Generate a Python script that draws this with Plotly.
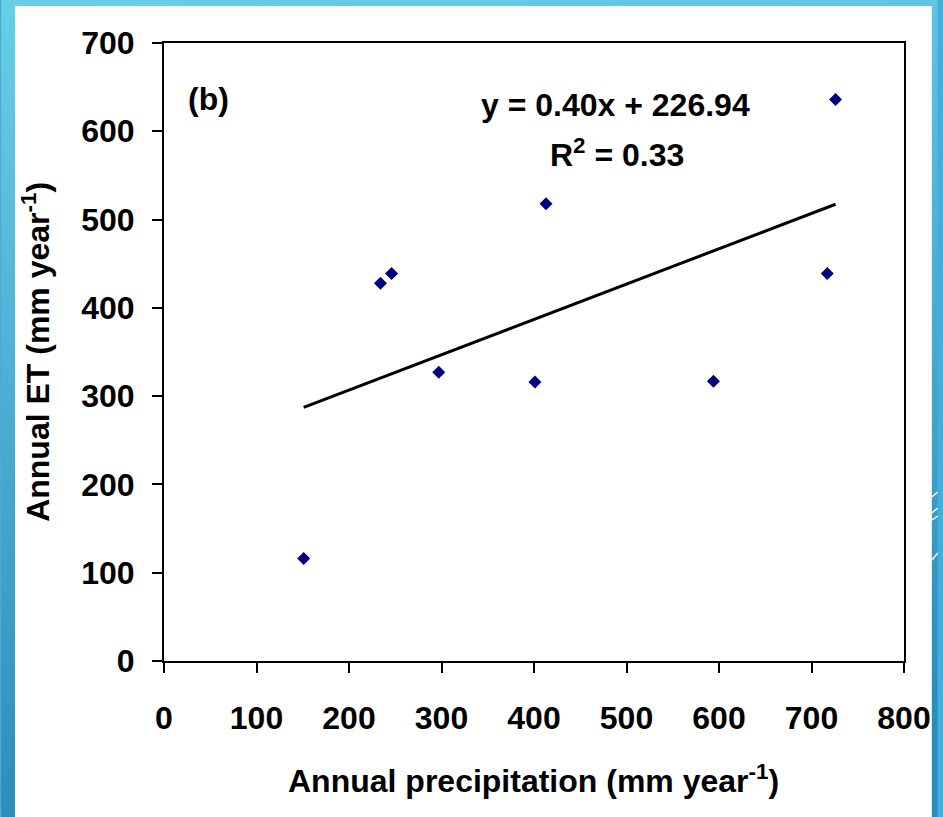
import base64
import plotly.graph_objects as go

# ---- data ----
precip = [151, 234, 246, 297, 401, 413, 594, 717, 726]
et = [116, 428, 439, 327, 316, 518, 317, 439, 636]
slope = 0.40
intercept = 226.94
r_squared = 0.33
x_tick_vals = [0, 100, 200, 300, 400, 500, 600, 700, 800]
y_tick_vals = [0, 100, 200, 300, 400, 500, 600, 700]
panel_label = "(b)"
x_title = "Annual precipitation (mm year<sup>-1</sup>)"
y_title = "Annual ET (mm year<sup>-1</sup>)"

# ---- figure geometry ----
W, H = 943, 817
L, R, T, B = 164, 34, 43, 156
PW, PH = W - L - R, H - T - B
FONT = "Liberation Sans, Arial, Helvetica, sans-serif"

def px_x(p):
    return (p - L) / PW

def px_y(p):
    return 1 - (p - T) / PH

# slide-like background: blue gradient with a white panel
svg = f"""<svg xmlns='http://www.w3.org/2000/svg' width='{W}' height='{H}' viewBox='0 0 {W} {H}'>
<defs><linearGradient id='g' x1='0' y1='0' x2='0.15' y2='1'>
<stop offset='0' stop-color='#68CFE8'/><stop offset='1' stop-color='#2A8CBA'/></linearGradient></defs>
<rect x='0' y='0' width='{W}' height='{H}' fill='url(#g)'/>
<rect x='14' y='6' width='923' height='{H-6}' fill='#FFFFFF'/>
<g stroke='#FFFFFF' stroke-width='1.5' fill='none'>
<line x1='937' y1='497' x2='943' y2='492'/>
<line x1='937' y1='513' x2='943' y2='508'/>
<line x1='937' y1='520' x2='943' y2='516'/>
<line x1='937' y1='560' x2='943' y2='553'/>
</g></svg>"""
img_src = "data:image/svg+xml;base64," + base64.b64encode(svg.encode()).decode()

x_line = [min(precip), max(precip)]
y_line = [slope * v + intercept for v in x_line]

fig = go.Figure()
fig.add_trace(go.Scatter(
    x=x_line, y=y_line, mode="lines",
    line=dict(color="black", width=3), showlegend=False, hoverinfo="skip"))
fig.add_trace(go.Scatter(
    x=precip, y=et, mode="markers",
    marker=dict(symbol="diamond", size=10, color="#000080",
                line=dict(width=0)),
    showlegend=False))

axis_common = dict(
    showgrid=False, zeroline=False, showline=True, linecolor="black",
    linewidth=2, mirror=True, ticks="outside", ticklen=10, tickwidth=2,
    tickcolor="black",
    tickfont=dict(family=FONT, size=32, color="black", weight="bold"),
)
fig.update_xaxes(range=[0, 800], tickvals=x_tick_vals, ticklabelstandoff=18,
                 **axis_common)
fig.update_yaxes(range=[0, 700], tickvals=y_tick_vals, ticklabelstandoff=11,
                 **axis_common)

ann_font = dict(family=FONT, size=32, color="black", weight="bold")
fig.update_layout(
    width=W, height=H,
    margin=dict(l=L, r=R, t=T, b=B, pad=0),
    paper_bgcolor="#46AED6", plot_bgcolor="rgba(0,0,0,0)",
    images=[dict(source=img_src, xref="paper", yref="paper",
                 x=px_x(0), y=px_y(0), sizex=W / PW, sizey=H / PH,
                 xanchor="left", yanchor="top", sizing="stretch",
                 layer="below")],
    annotations=[
        dict(text=panel_label, x=px_x(209), y=px_y(99), xref="paper",
             yref="paper", showarrow=False, font=ann_font,
             xanchor="center", yanchor="middle"),
        dict(text=f"y = {slope:.2f}x + {intercept:.2f}", x=px_x(619),
             y=px_y(105), xref="paper", yref="paper", showarrow=False,
             font=ann_font, xanchor="center", yanchor="middle"),
        dict(text=f"R<sup>2</sup> = {r_squared:.2f}", x=px_x(620),
             y=px_y(153), xref="paper", yref="paper", showarrow=False,
             font=ann_font, xanchor="center", yanchor="middle"),
        dict(text=x_title, x=px_x(536), y=px_y(779), xref="paper",
             yref="paper", showarrow=False, font=ann_font,
             xanchor="center", yanchor="middle"),
        dict(text=y_title, x=px_x(35), y=px_y(352), xref="paper",
             yref="paper", showarrow=False, font=ann_font, textangle=-90,
             xanchor="center", yanchor="middle"),
    ],
)

fig.write_html("out.html")
